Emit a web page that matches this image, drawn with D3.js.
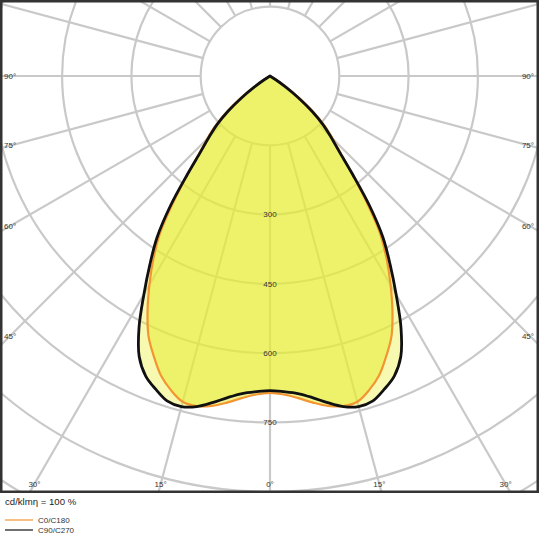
<!DOCTYPE html>
<html>
<head>
<meta charset="utf-8">
<script src="https://cdn.jsdelivr.net/npm/d3@7/dist/d3.min.js"></script>
<style>
  body { margin: 0; background: #fff; }
  svg { display: block; font-family: "Liberation Sans", Arial, sans-serif; }
</style>
</head>
<body>
<div id="chart"></div>
<script>
// gamma angles (deg from nadir), curves are symmetric left/right
const gammaDeg = [0, 2.5, 5, 7.5, 10, 12.5, 15, 17.5, 20, 22.5, 25, 27.5, 30, 32.5, 35, 37.5, 40, 42.5, 45, 47.5, 50, 52.5, 55, 57.5, 60];
// cd/klm
const c0c180  = [686, 690, 700, 713, 725, 732, 730, 713, 690, 657, 622, 574, 522, 470, 415, 343, 276, 226, 192, 162, 126, 85, 46, 17, 0];
const c90c270 = [681, 684, 690, 702, 718, 733, 741, 738, 722, 703, 670, 614, 546, 484, 426, 354, 279, 222, 186, 155, 118, 78, 41, 14, 0];

const ringValues = [150, 300, 450, 600, 750, 900, 1050, 1200];
const ringLabels = [300, 450, 600, 750];
const spokeStep = 15;
const leftLabels = [90, 75, 60, 45];
const bottomLabels = [30, 15, 0];

const legendNames = ['C0/C180', 'C90/C270'];
const legendColors = ['#f39530', '#111111'];

const W = 540, H = 540;
const frame = { x: 1.25, y: 1.25, w: 536.5, h: 490.5 };
const cx = 270, cy = 76;

const r = d3.scaleLinear().domain([0, 150]).range([0, 69.3]);

const svg = d3.select('#chart').append('svg').attr('width', W).attr('height', H);

svg.append('clipPath').attr('id', 'clip')
  .append('rect').attr('x', frame.x).attr('y', frame.y).attr('width', frame.w).attr('height', frame.h);

const plot = svg.append('g').attr('clip-path', 'url(#clip)');
const g = plot.append('g').attr('transform', `translate(${cx},${cy})`);

// grid rings
g.selectAll('circle.ring').data(ringValues).enter().append('circle')
  .attr('class', 'ring')
  .attr('r', d => r(d))
  .attr('fill', 'none')
  .attr('stroke', '#c9c9c9')
  .attr('stroke-width', 2.2);

// spokes
const spokes = d3.range(0, 360, spokeStep);
g.selectAll('line.spoke').data(spokes).enter().append('line')
  .attr('class', 'spoke')
  .attr('x1', d => r(150) * Math.sin(d * Math.PI / 180))
  .attr('y1', d => r(150) * Math.cos(d * Math.PI / 180))
  .attr('x2', d => 800 * Math.sin(d * Math.PI / 180))
  .attr('y2', d => 800 * Math.cos(d * Math.PI / 180))
  .attr('stroke', '#c9c9c9')
  .attr('stroke-width', 2.2);

// build full symmetric curve from -60 to 60
function fullCurve(vals) {
  const pts = [];
  for (let i = gammaDeg.length - 1; i > 0; i--) pts.push([-gammaDeg[i], vals[i]]);
  for (let i = 0; i < gammaDeg.length; i++) pts.push([gammaDeg[i], vals[i]]);
  return pts;
}

const radial = d3.lineRadial()
  .angle(d => Math.PI - d[0] * Math.PI / 180)
  .radius(d => r(d[1]))
  .curve(d3.curveCatmullRom);

const series = [c0c180, c90c270];

// pale fill for C90/C270, stronger fill for C0/C180 on top
g.append('path')
  .attr('d', radial(fullCurve(c90c270)) + 'Z')
  .attr('fill', 'rgb(235,240,60)')
  .attr('fill-opacity', 0.4);
g.append('path')
  .attr('d', radial(fullCurve(c0c180)) + 'Z')
  .attr('fill', 'rgb(232,237,50)')
  .attr('fill-opacity', 0.55);

g.selectAll('path.line').data(series).enter().append('path')
  .attr('class', 'line')
  .attr('d', d => radial(fullCurve(d)) + 'Z')
  .attr('fill', 'none')
  .attr('stroke', (d, i) => legendColors[i])
  .attr('stroke-width', (d, i) => i === 0 ? 2.2 : 2.8)
  .attr('stroke-linejoin', 'round');

// ring labels
g.selectAll('text.ringlab').data(ringLabels).enter().append('text')
  .attr('x', 0)
  .attr('y', d => r(d))
  .attr('dy', '0.35em')
  .attr('text-anchor', 'middle')
  .attr('font-size', 8)
  .attr('fill', '#333')
  .text(d => d);

// angle labels on the sides
const sideY = a => cy + (cx - 10) * Math.cos(a * Math.PI / 180) / Math.sin(a * Math.PI / 180);
leftLabels.forEach(a => {
  plot.append('text').attr('x', 4).attr('y', sideY(a)).attr('dy', '0.35em')
    .attr('font-size', 8).attr('fill', '#333').text(a + '°');
  plot.append('text').attr('x', 534).attr('y', sideY(a)).attr('dy', '0.35em')
    .attr('text-anchor', 'end')
    .attr('font-size', 8).attr('fill', '#333').text(a + '°');
});

const bottomY = 484;
bottomLabels.forEach(a => {
  const dx = (bottomY - cy) * Math.tan(a * Math.PI / 180);
  const xs = a === 0 ? [cx] : [cx - dx, cx + dx];
  xs.forEach(x => {
    plot.append('text').attr('x', x).attr('y', bottomY).attr('dy', '0.35em')
      .attr('text-anchor', 'middle')
      .attr('font-size', 8).attr('fill', '#333').text(a + '°');
  });
});

// frame
svg.append('rect')
  .attr('x', frame.x).attr('y', frame.y).attr('width', frame.w).attr('height', frame.h)
  .attr('fill', 'none').attr('stroke', '#333').attr('stroke-width', 2.5);

// legend
svg.append('text').attr('x', 5).attr('y', 505)
  .attr('font-size', 9.6).attr('fill', '#222').text('cd/klmη = 100 %');

const legend = svg.selectAll('g.leg').data(legendNames).enter().append('g')
  .attr('transform', (d, i) => `translate(5,${520 + i * 10})`);
legend.append('line').attr('x1', 0).attr('x2', 28).attr('y1', 0).attr('y2', 0)
  .attr('stroke', (d, i) => legendColors[i]).attr('stroke-width', 1.2);
legend.append('text').attr('x', 33).attr('y', 3)
  .attr('font-size', 8).attr('fill', '#333').text(d => d);
</script>
</body>
</html>
